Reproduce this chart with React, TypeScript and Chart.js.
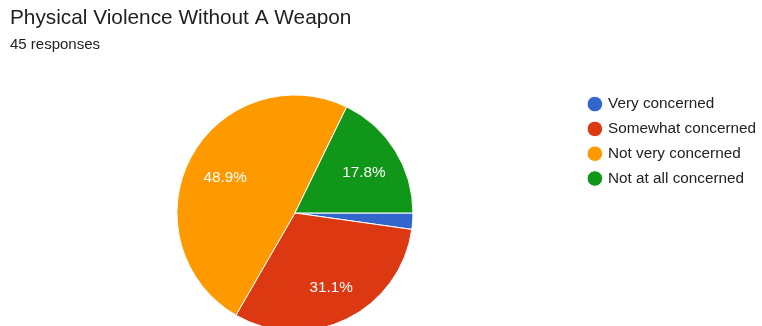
import React, { useEffect, useRef } from "react";
import { Chart, registerables } from "chart.js";

Chart.register(...registerables);

const titleText = "Physical Violence Without A Weapon";
const subtitleText = "45 responses";
const categories = ["Very concerned", "Somewhat concerned", "Not very concerned", "Not at all concerned"];
const responses = [1, 14, 22, 8];
const sliceColors = ["#3366CC", "#DC3912", "#FF9900", "#109618"];

const FONT = "'Liberation Sans', Arial, Helvetica, sans-serif";

const percentLabels = {
  id: "percentLabels",
  afterDatasetsDraw(chart: any) {
    const meta = chart.getDatasetMeta(0);
    const data = chart.data.datasets[0].data as number[];
    const total = data.reduce((a, b) => a + b, 0);
    const ctx = chart.ctx;
    ctx.save();
    ctx.fillStyle = "#ffffff";
    ctx.font = `15.3px ${FONT}`;
    ctx.textAlign = "center";
    ctx.textBaseline = "middle";
    meta.data.forEach((arc: any, i: number) => {
      const frac = data[i] / total;
      if (frac < 0.05) return;
      const { x, y, startAngle, endAngle, outerRadius } = arc.getProps(
        ["x", "y", "startAngle", "endAngle", "outerRadius"],
        true
      );
      const mid = (startAngle + endAngle) / 2;
      const r = outerRadius * 0.68;
      ctx.fillText((frac * 100).toFixed(1) + "%", x + Math.cos(mid) * r + 1, y + Math.sin(mid) * r + 2.5);
    });
    ctx.restore();
  },
};

export default function App() {
  const ref = useRef<HTMLCanvasElement>(null);
  useEffect(() => {
    if (!ref.current) return;
    const chart = new Chart(ref.current, {
      type: "pie",
      data: {
        labels: categories,
        datasets: [
          {
            data: responses,
            backgroundColor: sliceColors,
            borderColor: "#ffffff",
            borderWidth: 1,
            radius: 118,
          },
        ],
      },
      options: {
        responsive: false,
        animation: false,
        rotation: 90,
        layout: { padding: { top: 0, left: 10, right: -4, bottom: 0 } },
        plugins: {
          title: {
            display: true,
            text: titleText,
            align: "start",
            color: "#212121",
            font: { family: FONT, size: 20.8, weight: "normal" },
            padding: { top: 6, bottom: 2 },
          },
          subtitle: {
            display: true,
            text: subtitleText,
            align: "start",
            color: "#212121",
            font: { family: FONT, size: 15, weight: "normal" },
            padding: { top: 3, bottom: 33 },
          },
          legend: {
            display: true,
            position: "right",
            align: "start",
            fullSize: false,
            labels: {
              usePointStyle: true,
              pointStyle: "circle",
              boxWidth: 11,
              boxHeight: 11,
              padding: 9.5,
              color: "#222222",
              font: { family: FONT, size: 15.3 },
            },
          },
          tooltip: { enabled: false },
        },
      },
      plugins: [percentLabels],
    } as any);
    return () => chart.destroy();
  }, []);
  return (
    <div
      style={{
        position: "absolute",
        top: 0,
        left: 0,
        width: 762,
        height: 326,
        overflow: "hidden",
        background: "#ffffff",
      }}
    >
      <canvas ref={ref} width={762} height={339} style={{ display: "block" }} />
    </div>
  );
}
